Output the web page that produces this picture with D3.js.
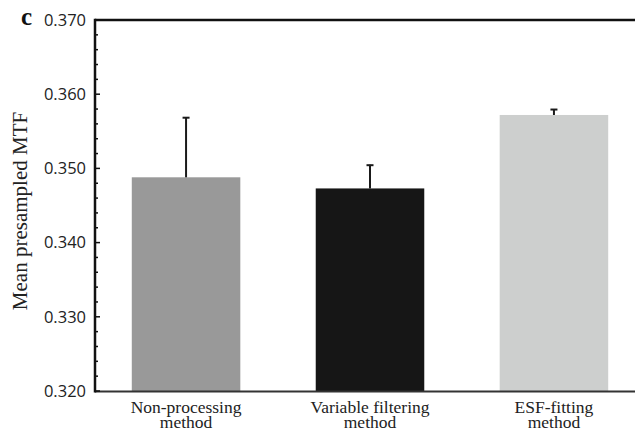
<!DOCTYPE html>
<html>
<head>
<meta charset="UTF-8">
<script src="https://d3js.org/d3.v7.min.js"></script>
<style>
  body { margin: 0; background: #fff; }
  svg { display: block; }
</style>
</head>
<body>
<div id="chart"></div>
<script>
// data
const methods = ["Non-processing method", "Variable filtering method", "ESF-fitting method"];
const labelLines = [["Non-processing", "method"], ["Variable filtering", "method"], ["ESF-fitting", "method"]];
const means = [0.3488, 0.3473, 0.3572];
const errUpper = [0.3569, 0.3505, 0.3580];
const barColors = ["#999999", "#161616", "#cdcfce"];
const yTicks = [0.320, 0.330, 0.340, 0.350, 0.360, 0.370];

const W = 635, H = 431;
const m = { left: 95, right: 0, top: 20, bottom: 40 };

const svg = d3.select("#chart").append("svg")
  .attr("width", W).attr("height", H);

const y = d3.scaleLinear().domain([0.320, 0.370]).range([391, 20]);
const x = d3.scaleBand().domain(methods).range([m.left, W + 10]).paddingInner(0.41).paddingOuter(0.2);

// bars
svg.append("g").selectAll("rect")
  .data(methods)
  .enter().append("rect")
  .attr("x", d => x(d))
  .attr("width", x.bandwidth())
  .attr("y", (d, i) => y(means[i]))
  .attr("height", (d, i) => y(0.320) - y(means[i]))
  .attr("fill", (d, i) => barColors[i]);

// error bars (upper only)
const eb = svg.append("g").attr("stroke", "#1a1a1a");
methods.forEach((d, i) => {
  const cx = x(d) + x.bandwidth() / 2;
  eb.append("line").attr("x1", cx).attr("x2", cx)
    .attr("y1", y(means[i])).attr("y2", y(errUpper[i])).attr("stroke-width", 2);
  eb.append("line").attr("x1", cx - 3.5).attr("x2", cx + 3.5)
    .attr("y1", y(errUpper[i]) + 0.5).attr("y2", y(errUpper[i]) + 0.5).attr("stroke-width", 2);
});

// frame lines
svg.append("line").attr("x1", m.left).attr("x2", W).attr("y1", 20).attr("y2", 20)
  .attr("stroke", "#111").attr("stroke-width", 2.5);
svg.append("line").attr("x1", m.left).attr("x2", W).attr("y1", 391.5).attr("y2", 391.5)
  .attr("stroke", "#333").attr("stroke-width", 2);

// y axis with inner ticks
const minor = d3.range(0.320, 0.3701, 0.002);
const yAxis = svg.append("g");
yAxis.selectAll("line.minor")
  .data(minor)
  .enter().append("line")
  .attr("x1", m.left).attr("x2", d => Math.abs(d * 100 - Math.round(d * 100)) < 1e-6 ? m.left + 5 : m.left + 3)
  .attr("y1", d => y(d)).attr("y2", d => y(d))
  .attr("stroke", "#111").attr("stroke-width", 1.5);
yAxis.append("line").attr("x1", m.left).attr("x2", m.left).attr("y1", 18.8).attr("y2", 392.5)
  .attr("stroke", "#111").attr("stroke-width", 2.5);
yAxis.selectAll("text")
  .data(yTicks)
  .enter().append("text")
  .attr("x", 86).attr("y", d => y(d))
  .attr("dy", "0.35em")
  .attr("text-anchor", "end")
  .style("font-family", '"Open Sans", sans-serif').style("font-size", "16.5px").attr("fill", "#222")
  .text(d => d3.format(".3f")(d));

// x labels, two lines each
methods.forEach((d, i) => {
  const cx = x(d) + x.bandwidth() / 2;
  labelLines[i].forEach((s, k) => {
    svg.append("text")
      .attr("text-anchor", "middle")
      .attr("x", cx).attr("y", 413 + k * 15)
      .style("font-family", '"Liberation Serif", serif').style("font-size", "17.5px").attr("fill", "#222")
      .text(s);
  });
});

// y title
svg.append("text")
  .attr("transform", "translate(27,211) rotate(-90)")
  .attr("text-anchor", "middle")
  .style("font-family", '"Liberation Serif", serif').style("font-size", "21px").attr("fill", "#222")
  .text("Mean presampled MTF");

// panel letter
svg.append("text").attr("x", 21).attr("y", 25)
  .style("font-family", '"Liberation Serif", serif').style("font-size", "25px").style("font-weight", "bold")
  .attr("fill", "#111").text("c");
</script>
</body>
</html>
